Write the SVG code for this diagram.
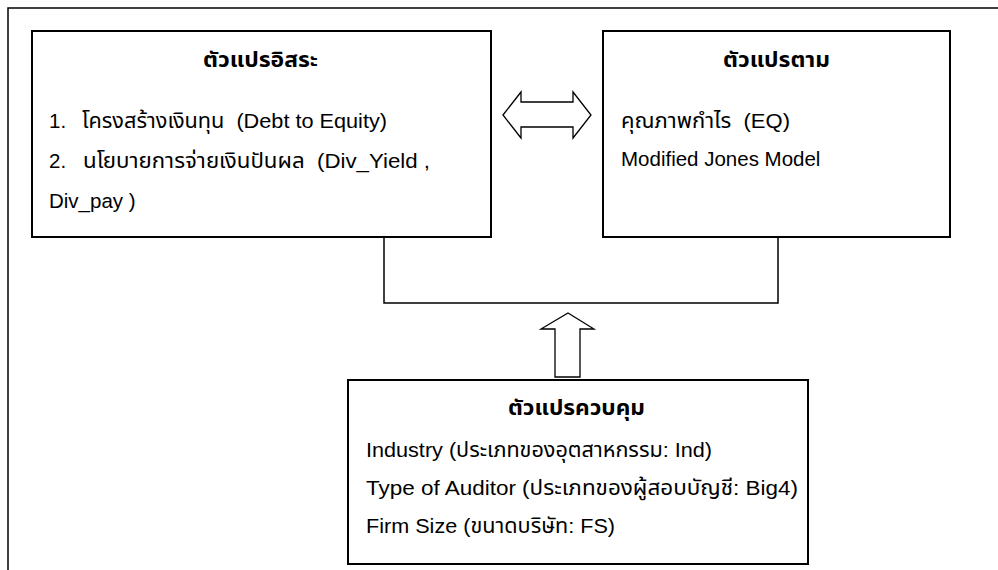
<svg xmlns="http://www.w3.org/2000/svg" width="998" height="570" viewBox="0 0 998 570">
<style>
  .box { fill: #ffffff; stroke: #000000; stroke-width: 2; }
  .frame { fill: none; stroke: #000000; stroke-width: 1.5; }
  .conn { fill: none; stroke: #000000; stroke-width: 1.5; }
  .arrow { fill: #ffffff; stroke: #000000; stroke-width: 1.3; stroke-linejoin: miter; }
  text { font-family: "Liberation Sans", "Noto Sans Thai", "Noto Sans", "DejaVu Sans", sans-serif; font-size: 20.5px; fill: #000000; }
  .title { font-weight: bold; font-size: 21px; }
</style>
<rect x="0" y="0" width="998" height="570" fill="#ffffff"/>
<path class="frame" d="M8,570 V8 H998"/>

<g id="connectors">
  <polyline class="conn" points="384,237 384,303 778,303 778,237"/>
  <polygon id="double-arrow" class="arrow" points="503,115 521,92 521,102 573,102 573,92 591,115 573,138 573,127 521,127 521,138"/>
  <polygon id="up-arrow" class="arrow" points="568,313 594,329 580,329 580,377 555,377 555,329 541,329"/>
</g>

<g id="independent">
  <rect class="box" x="32" y="31" width="459" height="206"/>
  <text class="title" x="203" y="67" textLength="115" lengthAdjust="spacingAndGlyphs">ตัวแปรอิสระ</text>
  <text x="49" y="128">1.</text>
  <text x="82" y="128" xml:space="preserve" textLength="305" lengthAdjust="spacingAndGlyphs">โครงสร้างเงินทุน  (Debt to Equity)</text>
  <text x="49" y="168">2.</text>
  <text x="83" y="168" xml:space="preserve" textLength="347" lengthAdjust="spacingAndGlyphs">นโยบายการจ่ายเงินปันผล  (Div_Yield ,</text>
  <text x="49" y="208">Div_pay )</text>
</g>

<g id="dependent">
  <rect class="box" x="603" y="31" width="347" height="206"/>
  <text class="title" x="723" y="67" textLength="107" lengthAdjust="spacingAndGlyphs">ตัวแปรตาม</text>
  <text x="621" y="128" xml:space="preserve" textLength="169" lengthAdjust="spacingAndGlyphs">คุณภาพกำไร  (EQ)</text>
  <text x="621" y="166">Modified Jones Model</text>
</g>

<g id="control">
  <rect class="box" x="348" y="380" width="460" height="184"/>
  <text class="title" x="508" y="415" textLength="137" lengthAdjust="spacingAndGlyphs">ตัวแปรควบคุม</text>
  <text x="366" y="457" textLength="346" lengthAdjust="spacingAndGlyphs">Industry (ประเภทของอุตสาหกรรม: Ind)</text>
  <text x="366" y="495" textLength="432" lengthAdjust="spacingAndGlyphs">Type of Auditor (ประเภทของผู้สอบบัญชี: Big4)</text>
  <text x="366" y="533" textLength="249" lengthAdjust="spacingAndGlyphs">Firm Size (ขนาดบริษัท: FS)</text>
</g>
</svg>
